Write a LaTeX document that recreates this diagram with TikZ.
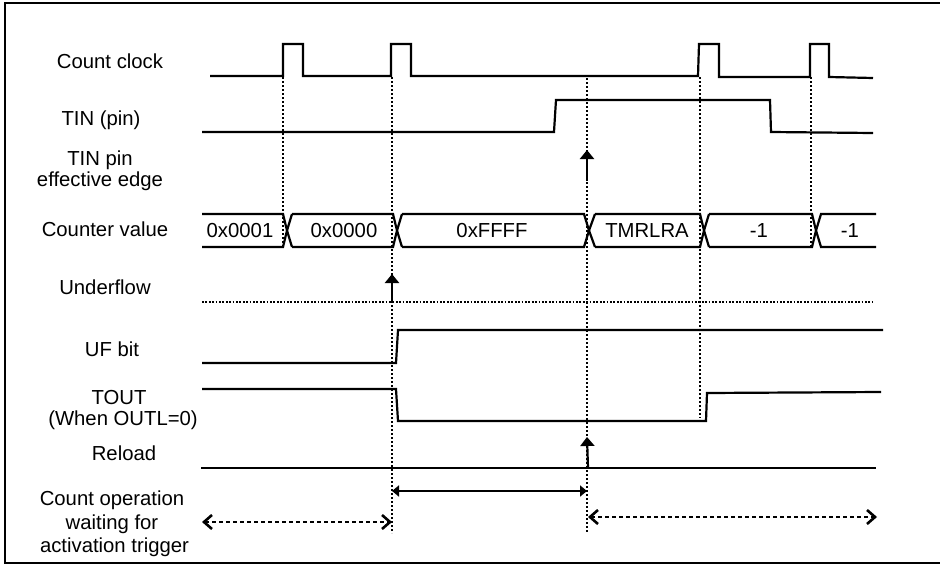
\documentclass[tikz,border=0pt]{standalone}
\usepackage{fontspec}
\setmainfont{Liberation Sans}
\usetikzlibrary{arrows.meta}
\begin{document}
\begin{tikzpicture}[x=1pt,y=-1pt,
  sig/.style={line width=2.2pt,line join=miter},
  vdot/.style={line width=2pt,dash pattern=on 2pt off 2pt},
  lbl/.style={anchor=base,inner sep=0pt,font=\fontsize{20.3}{22}\selectfont},
  val/.style={anchor=base,inner sep=0pt,font=\fontsize{20.3}{22}\selectfont},
  evarrow/.style={line width=2.2pt,-{Triangle[length=9pt,width=14pt]}},
  spanarrow/.style={line width=2pt,{Triangle[length=7pt,width=11pt]}-{Triangle[length=7pt,width=11pt]}},
  waitarrow/.style={line width=2.2pt,dash pattern=on 4pt off 3pt,{Straight Barb[length=8pt,width=14pt,line width=2.6pt]}-{Straight Barb[length=8pt,width=14pt,line width=2.6pt]}}
]
\useasboundingbox (0,0) rectangle (940,565);
% frame
\draw[line width=2.4pt] (942,3) -- (5,3) -- (5,563) -- (942,563);

% labels
\node[lbl] (lclk) at (110,68) {Count clock};
\node[lbl] (ltin) at (101,125) {TIN (pin)};
\node[lbl] (ledge1) at (100,165) {TIN pin};
\node[lbl] (ledge2) at (100,186) {effective edge};
\node[lbl] (lcnt) at (105,236) {Counter value};
\node[lbl] (luf) at (105,294) {Underflow};
\node[lbl] (lufb) at (112,356) {UF bit};
\node[lbl] (ltout1) at (119,404) {TOUT};
\node[lbl] (ltout2) at (123,425) {(When OUTL=0)};
\node[lbl] (lrel) at (124,460) {Reload};
\node[lbl] (lop1) at (112,505) {Count operation};
\node[lbl] (lop2) at (112,529) {waiting for};
\node[lbl] (lop3) at (114.5,552) {activation trigger};

% vertical dotted guides
\draw[vdot] (283,77) -- (283,247);
\draw[vdot] (392,77) -- (392,533);
\draw[vdot] (587,78) -- (587,532);
\draw[vdot] (700,77) -- (700,418);
\draw[vdot] (811,77) -- (811,247);

% count clock
\draw[sig] (210,76) -- (283,76) -- (283,44) -- (303,44) -- (303,76)
  -- (391,76) -- (391,44) -- (411,44) -- (411,76)
  -- (698,76) -- (699,44) -- (719,44) -- (719,77)
  -- (810,77) -- (810,44) -- (829,44) -- (829,77) -- (873,78);

% TIN
\draw[sig] (202,132) -- (554,132) -- (556,100) -- (770,100) -- (771,132) -- (873,133);

% counter value
\def\ctop{214}\def\cbot{247}\def\cmid{230.5}
\draw[sig] (202,\ctop) -- (283,\ctop) -- (287,\cmid) -- (283,\cbot) -- (202,\cbot);
\draw[sig] (292,\ctop) -- (287,\cmid) -- (292,\cbot);
\draw[sig] (292,\ctop) -- (393,\ctop) -- (397,\cmid) -- (393,\cbot) -- (292,\cbot);
\draw[sig] (402,\ctop) -- (397,\cmid) -- (402,\cbot);
\draw[sig] (402,\ctop) -- (584,\ctop) -- (589,\cmid) -- (584,\cbot) -- (402,\cbot);
\draw[sig] (595,\ctop) -- (589,\cmid) -- (595,\cbot);
\draw[sig] (595,\ctop) -- (700,\ctop) -- (704,\cmid) -- (700,\cbot) -- (595,\cbot);
\draw[sig] (709,\ctop) -- (704,\cmid) -- (709,\cbot);
\draw[sig] (709,\ctop) -- (812,\ctop) -- (816,\cmid) -- (812,\cbot) -- (709,\cbot);
\draw[sig] (876,\ctop) -- (821,\ctop) -- (816,\cmid) -- (821,\cbot) -- (876,\cbot);
\node[val] (v1) at (240,237) {0x0001};
\node[val] (v2) at (344,237) {0x0000};
\node[val] (v3) at (492,237) {0xFFFF};
\node[val] (v4) at (647,237) {TMRLRA};
\node[val] (v5) at (759,237) {-1};
\node[val] (v6) at (850,237) {-1};

% underflow
\draw[line width=1.8pt,dash pattern=on 1.8pt off 1.6pt] (202,302) -- (873,302);

% UF bit
\draw[sig] (202,363) -- (396,363) -- (398,330) -- (883,330);

% TOUT
\draw[sig] (202,389) -- (396,389) -- (398,421) -- (706,421) -- (707,393) -- (881,392);

% Reload
\draw[sig] (201,468) -- (876,468);

% event arrows
\coordinate (edgeS) at (587,181); \coordinate (edgeE) at (587,150);
\draw[evarrow] (edgeS) -- (edgeE);
\coordinate (ufS) at (392,302); \coordinate (ufE) at (392,274);
\draw[evarrow] (ufS) -- (ufE);
\coordinate (rlS) at (588,468); \coordinate (rlE) at (587,437);
\draw[evarrow] (rlS) -- (rlE);

% span arrows
\coordinate (spA) at (392,491); \coordinate (spB) at (587,491);
\draw[spanarrow] (spA) -- (spB);
\coordinate (w1A) at (202,522); \coordinate (w1B) at (392,522);
\draw[waitarrow] (w1A) -- (w1B);
\coordinate (w2A) at (588,517); \coordinate (w2B) at (877,517);
\draw[waitarrow] (w2A) -- (w2B);
\end{tikzpicture}
\end{document}
